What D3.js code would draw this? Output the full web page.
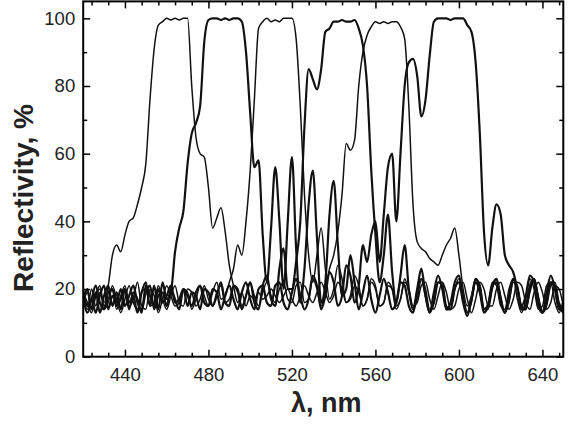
<!DOCTYPE html>
<html><head><meta charset="utf-8">
<script src="https://cdn.jsdelivr.net/npm/d3@7"></script>
<style>body{margin:0;background:#fff}svg{display:block}</style>
</head><body>
<svg id="chart" width="573" height="428"></svg>
<script>
const wavelengths = [420,422,424,426,428,430,432,434,436,438,440,442,444,446,448,450,452,454,456,458,
460,462,464,466,468,470,472,474,476,478,480,482,484,486,488,490,492,494,496,498,
500,502,504,506,508,510,512,514,516,518,520,522,524,526,528,530,532,534,536,538,
540,542,544,546,548,550,552,554,556,558,560,562,564,566,568,570,572,574,576,578,
580,582,584,586,588,590,592,594,596,598,600,602,604,606,608,610,612,614,616,618,
620,622,624,626,628,630,632,634,636,638,640,642,644,646,648,650];

const seriesA = [17,14,20,15,19,16,21,30,33,31, 36,40,41,45,50,57,76,91,98,99,
100,99.5,100,99.5,100,100,80,65,60,59, 50,38,41,44,37,27,21,16,19,15,
18,17,19,17,18,20,18,16,18,20, 17,15,18,21,18,16,19,22,19,16,
18,22,20,16,17,21,19,15,17,22, 20,15,16,21,20,15,17,22,20,15,
16,21,22,17,14,18,22,19,14,15, 20,22,17,13,17,22,20,15,15,20,
22,18,14,17,22,21,16,14,19,22, 19,14,16,21,20,15];

const seriesB = [15,20,14,19,13,18,21,15,19,14, 20,16,18,13,19,22,15,21,14,22,
17,19,31,38,43,57,66,69,74,93, 99.5,100,100,99.5,100,99.5,100,100,99,90,
72,56,58,36,22,38,56,40,20,40, 59,32,16,26,45,55,35,16,22,42,
52,33,18,20,30,22,14,19,24,17, 13,18,23,19,14,16,22,21,15,13,
19,23,18,13,16,22,21,14,14,20, 22,16,12,17,22,19,13,15,21,22,
16,13,18,23,20,14,14,20,23,17, 13,16,22,21,15,13];

const seriesC = [19,16,13,18,21,15,17,20,14,18, 21,15,17,22,15,14,20,18,13,17,
21,18,15,16,20,19,14,17,21,18, 15,19,22,17,18,22,26,33,30,40,
55,76,97,99,100,99,99.5,99,100,100, 100,94,74,48,30,22,30,38,26,17,
20,27,23,16,18,24,21,15,17,23, 21,15,16,22,20,14,17,23,19,14,
17,23,20,14,16,22,22,15,14,20, 23,18,13,16,22,21,14,14,20,23,
18,13,16,22,21,15,14,19,23,18, 13,15,21,22,16,14];

const seriesD = [18,13,17,21,16,14,19,20,15,17, 20,14,19,17,13,21,18,15,20,16,
18,21,16,17,20,15,19,18,14,20, 19,15,18,22,16,15,21,20,14,18,
22,16,14,21,24,17,15,26,32,20, 20,28,40,68,85,82,79,85,96,97,
99,99,99.5,99,99,99.5,97,92,80,55, 36,22,30,42,25,16,24,33,20,14,
20,26,18,13,19,24,20,14,16,22, 24,17,13,17,23,21,14,15,21,23,
17,13,17,23,20,14,15,21,23,17, 13,17,22,20,14,14];

const seriesE = [16,19,14,18,20,14,16,21,17,13, 17,21,16,14,19,20,15,16,21,17,
14,18,21,16,15,20,19,15,17,21, 17,15,19,21,16,17,21,19,15,18,
22,18,15,19,22,18,16,20,22,17, 16,21,22,16,17,23,20,15,20,26,
30,37,48,63,61,64,80,90,95,97.5, 99,98.5,99,98.5,99,99,97.5,94,74,45,
34,32,31,29,28,27,30,33,35,38, 30,20,15,18,23,19,14,16,22,21,
15,14,20,23,17,13,17,23,20,14, 15,21,22,16,13,17];

const seriesF = [20,15,17,13,18,21,14,18,16,20, 15,18,21,16,14,19,21,14,18,19,
15,20,17,14,20,18,15,19,21,16, 15,20,19,14,18,21,17,14,19,22,
17,14,20,21,16,15,21,22,16,14, 19,23,18,14,17,24,21,14,18,25,
22,15,18,27,24,16,21,33,28,36, 40,28,42,56,60,40,60,80,87,88,
83,71,76,89,99,100,100,100,99.5,100, 100,100,98,96,87,66,37,27,38,45,
42,30,27,25,20,15,18,24,22,15, 13,19,24,20,14,15];

const xTicks = [440, 480, 520, 560, 600, 640];
const xMinorTicks = [424,432,448,456,464,472,488,496,504,512,528,536,544,552,568,576,584,592,608,616,624,632,648];
const yTicks = [0, 20, 40, 60, 80, 100];
const yMinorTicks = [10, 30, 50, 70, 90];

const seriesList = [
  {values: seriesA, w: 1.5},
  {values: seriesB, w: 2.2},
  {values: seriesC, w: 1.5},
  {values: seriesD, w: 2.2},
  {values: seriesE, w: 1.5},
  {values: seriesF, w: 2.2}
];

const svg = d3.select("#chart");
const L = 83.2, R = 563.3, T = 1.4, B = 356.7;
const x = d3.scaleLinear().domain([420, 650]).range([L, R]);
const y = d3.scaleLinear().domain([0, 105]).range([B, T]);

const plot = svg.append("g");
plot.append("clipPath").attr("id","clip").append("rect")
  .attr("x", L).attr("y", T).attr("width", R-L).attr("height", B-T);

const line = d3.line().x((d,i)=>x(wavelengths[i])).y(d=>y(d)).curve(d3.curveMonotoneX);
const lg = plot.append("g").attr("clip-path","url(#clip)");
seriesList.forEach(s=>{
  lg.append("path").datum(s.values).attr("d", line)
    .attr("fill","none").attr("stroke","#111").attr("stroke-width", s.w)
    .attr("stroke-linejoin","round");
});

function styleAxis(g){
  g.select(".domain").remove();
  g.selectAll("line").attr("stroke","#000").attr("stroke-width",1.5);
  g.selectAll("text").attr("font-family","Liberation Sans, Arial, sans-serif")
    .attr("font-size","18.5px").attr("fill","#222");
}
svg.append("g").attr("transform",`translate(0,${B})`)
  .call(d3.axisBottom(x).tickValues(xTicks).tickSize(-7).tickPadding(11).tickFormat(d3.format("d")))
  .call(styleAxis);
svg.append("g").attr("transform",`translate(0,${B})`)
  .call(d3.axisBottom(x).tickValues(xMinorTicks).tickSize(-4).tickFormat(""))
  .call(styleAxis);
svg.append("g").attr("transform",`translate(0,${T})`)
  .call(d3.axisTop(x).tickValues(xTicks).tickSize(-7).tickFormat(""))
  .call(styleAxis);
svg.append("g").attr("transform",`translate(0,${T})`)
  .call(d3.axisTop(x).tickValues(xMinorTicks).tickSize(-4).tickFormat(""))
  .call(styleAxis);
svg.append("g").attr("transform",`translate(${L},0)`)
  .call(d3.axisLeft(y).tickValues(yTicks).tickSize(-7).tickPadding(8).tickFormat(d3.format("d")))
  .call(styleAxis);
svg.append("g").attr("transform",`translate(${L},0)`)
  .call(d3.axisLeft(y).tickValues(yMinorTicks).tickSize(-4).tickFormat(""))
  .call(styleAxis);
svg.append("g").attr("transform",`translate(${R},0)`)
  .call(d3.axisRight(y).tickValues(yTicks).tickSize(-7).tickFormat(""))
  .call(styleAxis);
svg.append("g").attr("transform",`translate(${R},0)`)
  .call(d3.axisRight(y).tickValues(yMinorTicks).tickSize(-4).tickFormat(""))
  .call(styleAxis);

svg.append("rect").attr("x", L).attr("y", T).attr("width", R-L).attr("height", B-T)
  .attr("fill","none").attr("stroke","#000").attr("stroke-width",2);

svg.append("text").attr("x", (L+R)/2 + 3).attr("y", 412)
  .attr("text-anchor","middle").attr("font-family","Liberation Sans, Arial, sans-serif")
  .attr("font-weight","bold").attr("font-size","27px").attr("fill","#222").text("λ, nm");
svg.append("text").attr("transform","translate(33,198) rotate(-90)")
  .attr("text-anchor","middle").attr("font-family","Liberation Sans, Arial, sans-serif")
  .attr("font-weight","bold").attr("font-size","28px").attr("fill","#222").text("Reflectivity, %");
</script>
</body></html>
